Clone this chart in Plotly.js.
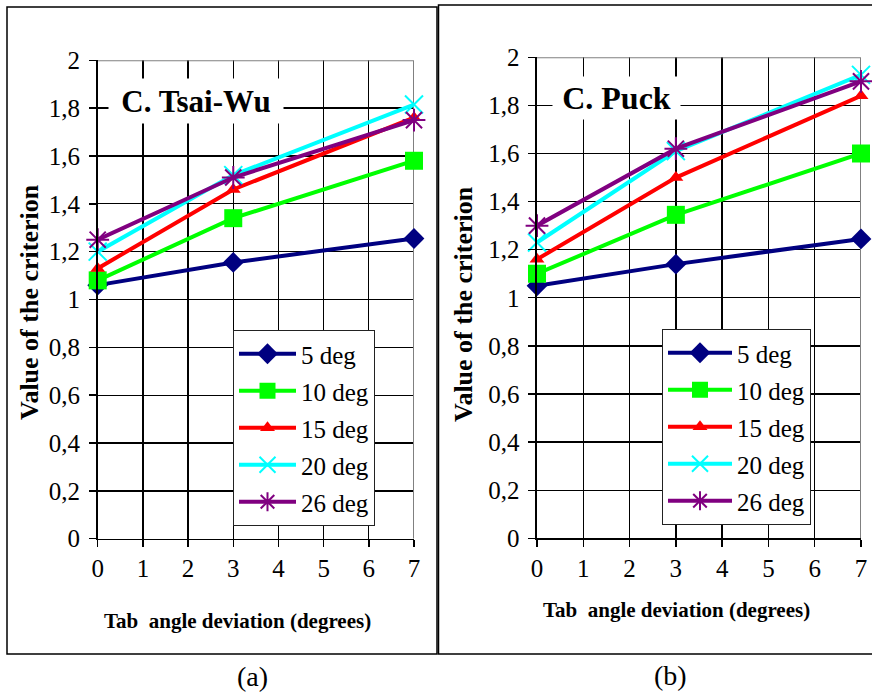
<!DOCTYPE html>
<html>
<head>
<meta charset="utf-8">
<script src="https://cdn.plot.ly/plotly-3.0.1.min.js"></script>
<style>
html,body{margin:0;padding:0;background:#fff;}
#chart{width:872px;height:695px;}
</style>
</head>
<body>
<div id="chart"></div>
<script>
// ---- data ----
const tabDeviation = [0, 3, 7];
const seriesNames = ['5 deg', '10 deg', '15 deg', '20 deg', '26 deg'];

const tsaiWu5  = [1.06, 1.155, 1.255];
const tsaiWu10 = [1.08, 1.34, 1.58];
const tsaiWu15 = [1.13, 1.46, 1.76];
const tsaiWu20 = [1.20, 1.52, 1.815];
const tsaiWu26 = [1.25, 1.51, 1.75];

const puck5  = [1.05, 1.14, 1.245];
const puck10 = [1.10, 1.345, 1.60];
const puck15 = [1.16, 1.50, 1.84];
const puck20 = [1.23, 1.61, 1.927];
const puck26 = [1.30, 1.62, 1.90];

const yTickVals = [0, 0.2, 0.4, 0.6, 0.8, 1, 1.2, 1.4, 1.6, 1.8, 2];
const yTickText = ['0', '0,2', '0,4', '0,6', '0,8', '1', '1,2', '1,4', '1,6', '1,8', '2'];
const xTickVals = [0, 1, 2, 3, 4, 5, 6, 7];

// ---- styles ----
const colors = ['#000080', '#00FF00', '#FF0000', '#00FFFF', '#800080'];
const markers = [
  {symbol: 'diamond', size: 16},
  {symbol: 'square', size: 18},
  {symbol: 'triangle-up', size: 13},
  {symbol: 'x-thin-open', size: 18, line: {width: 2}},
  {symbol: 'asterisk-open', size: 19, line: {width: 2}}
];

const W = 872, H = 695;
const px = v => v / W;
const py = v => (H - v) / H;

function makeTraces(vals, xa, ya, legendId) {
  return vals.map((ys, i) => {
    const m = Object.assign({color: colors[i]}, markers[i]);
    if (m.line) m.line = Object.assign({color: colors[i]}, m.line);
    return {
      type: 'scatter', mode: 'lines+markers',
      x: tabDeviation, y: ys, name: seriesNames[i],
      xaxis: xa, yaxis: ya, legend: legendId, legendgroup: legendId + i,
      line: {color: colors[i], width: 4},
      marker: m, cliponaxis: false
    };
  });
}

const traces = [].concat(
  makeTraces([tsaiWu5, tsaiWu10, tsaiWu15, tsaiWu20, tsaiWu26], 'x', 'y', 'legend'),
  makeTraces([puck5, puck10, puck15, puck20, puck26], 'x2', 'y2', 'legend2')
);

const tickFont = {family: 'Liberation Serif', size: 25, color: '#000'};
function xAxis(dom, anchor, standoff) {
  return {domain: dom, anchor: anchor, range: [0, 7], tickvals: xTickVals,
    showgrid: true, gridcolor: '#000', gridwidth: 1.3,
    showline: true, linecolor: '#000', linewidth: 1.6,
    ticks: 'outside', ticklen: 7, tickwidth: 1.4, tickcolor: '#000',
    tickfont: tickFont, zeroline: false, ticklabelstandoff: standoff};
}
function yAxis(dom, anchor) {
  return {domain: dom, anchor: anchor, range: [0, 2], tickvals: yTickVals, ticktext: yTickText,
    showgrid: true, gridcolor: '#000', gridwidth: 1.3,
    showline: true, linecolor: '#000', linewidth: 1.6,
    ticks: 'outside', ticklen: 7, tickwidth: 1.4, tickcolor: '#000',
    tickfont: tickFont, zeroline: false, ticklabelstandoff: 4};
}

const legendBase = {
  bgcolor: '#fff', bordercolor: '#222', borderwidth: 1,
  font: {family: 'Liberation Serif', size: 25, color: '#000'},
  xanchor: 'left', yanchor: 'top', tracegroupgap: 1.5,
  orientation: 'v'
};

const titleFont = {family: 'Liberation Serif', size: 26, color: '#000', weight: 'bold'};
const xTitleFont = {family: 'Liberation Serif', size: 21, color: '#000', weight: 'bold'};

const layout = {
  width: W, height: H,
  margin: {l: 0, r: 0, t: 0, b: 0},
  paper_bgcolor: '#fff', plot_bgcolor: '#fff',
  showlegend: true,
  xaxis: xAxis([px(97.7), px(414)], 'y', 13.5),
  yaxis: yAxis([py(538.7), py(60.3)], 'x'),
  xaxis2: xAxis([px(537), px(861)], 'y2', 13.5),
  yaxis2: yAxis([py(538.3), py(57.3)], 'x2'),
  legend: Object.assign({}, legendBase, {x: px(233), y: py(330), itemwidth: 57}),
  legend2: Object.assign({}, legendBase, {x: px(662), y: py(329), itemwidth: 64}),
  shapes: [
    {type: 'path', xref: 'x', yref: 'y', path: 'M0,2 L7,2 L7,0', line: {color: '#808080', width: 2}, layer: 'between'},
    {type: 'path', xref: 'x2', yref: 'y2', path: 'M0,2 L7,2 L7,0', line: {color: '#808080', width: 2}, layer: 'between'},
    {type: 'rect', xref: 'paper', yref: 'paper', x0: px(7), x1: px(437), y0: py(654), y1: py(7), line: {color: '#000', width: 1.5}},
    {type: 'rect', xref: 'paper', yref: 'paper', x0: px(438.5), x1: px(880), y0: py(654), y1: py(5), line: {color: '#000', width: 1.5}}
  ],
  annotations: [
    {text: 'C. Tsai-Wu', xref: 'paper', yref: 'paper', x: px(196), y: py(101), xanchor: 'center', yanchor: 'middle',
     showarrow: false, bgcolor: '#fff', width: 172, height: 42,
     font: {family: 'Liberation Serif', size: 31, color: '#000', weight: 'bold'}},
    {text: 'C. Puck', xref: 'paper', yref: 'paper', x: px(616), y: py(98), xanchor: 'center', yanchor: 'middle',
     showarrow: false, bgcolor: '#fff', width: 125, height: 40,
     font: {family: 'Liberation Serif', size: 32, color: '#000', weight: 'bold'}},
    {text: 'Value of the criterion', xref: 'paper', yref: 'paper', x: px(29), y: py(302), textangle: -90,
     xanchor: 'center', yanchor: 'middle', showarrow: false, font: titleFont},
    {text: 'Value of the criterion', xref: 'paper', yref: 'paper', x: px(463), y: py(304), textangle: -90,
     xanchor: 'center', yanchor: 'middle', showarrow: false, font: titleFont},
    {text: 'Tab  angle deviation (degrees)', xref: 'paper', yref: 'paper', x: px(237.5), y: py(621),
     xanchor: 'center', yanchor: 'middle', showarrow: false, font: xTitleFont},
    {text: 'Tab  angle deviation (degrees)', xref: 'paper', yref: 'paper', x: px(676), y: py(610),
     xanchor: 'center', yanchor: 'middle', showarrow: false, font: xTitleFont},
    {text: '(a)', xref: 'paper', yref: 'paper', x: px(252.5), y: py(676), xanchor: 'center', yanchor: 'middle',
     showarrow: false, font: {family: 'Liberation Serif', size: 28, color: '#000'}},
    {text: '(b)', xref: 'paper', yref: 'paper', x: px(670), y: py(675), xanchor: 'center', yanchor: 'middle',
     showarrow: false, font: {family: 'Liberation Serif', size: 28, color: '#000'}}
  ]
};

Plotly.newPlot('chart', traces, layout, {staticPlot: true, displayModeBar: false});
</script>
</body>
</html>
